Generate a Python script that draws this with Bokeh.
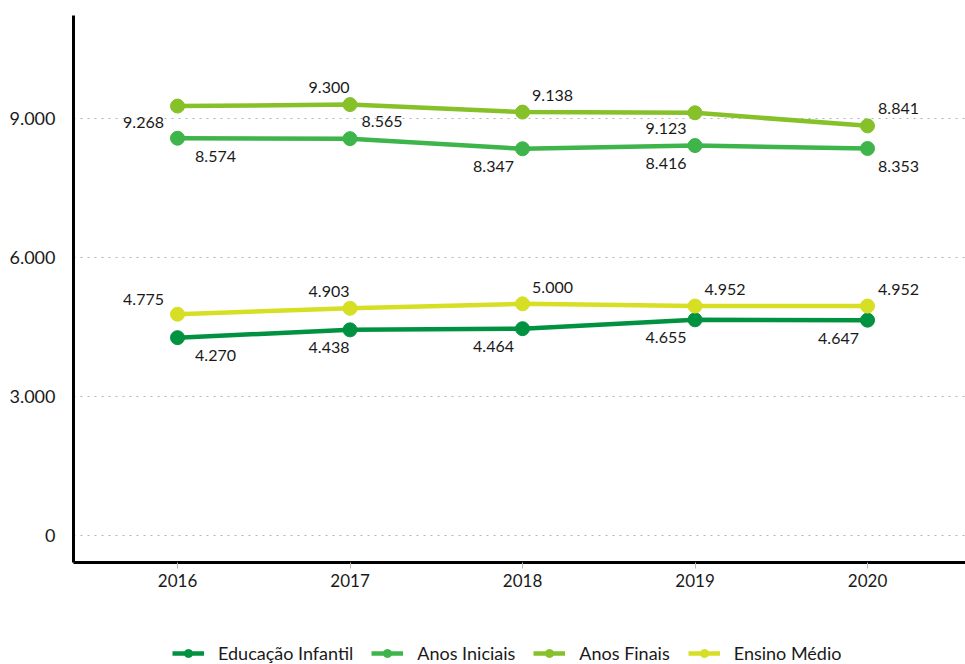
from bokeh.plotting import figure
from bokeh.layouts import column
from bokeh.models import Range1d, FixedTicker, Legend, LegendItem, ColumnDataSource
from bokeh.core.properties import value
from bokeh.embed import file_html
from bokeh.resources import INLINE

years = [2016, 2017, 2018, 2019, 2020]
series_names = ["Educação Infantil", "Anos Iniciais", "Anos Finais", "Ensino Médio"]
educacao_infantil = [4270, 4438, 4464, 4655, 4647]
anos_iniciais = [8574, 8565, 8347, 8416, 8353]
anos_finais = [9268, 9300, 9138, 9123, 8841]
ensino_medio = [4775, 4903, 5000, 4952, 4952]
y_ticks = [0, 3000, 6000, 9000]
y_tick_labels = ["0", "3.000", "6.000", "9.000"]

colors = ["#009241", "#3db54a", "#86c12a", "#d6df23"]

# label offsets in pixels (style)
label_dx = [
    [38, -21, -29, -29, -29],
    [38, 32, -29, -29, 31],
    [-34, -21, 30, -29, 31],
    [-34, -21, 30, 30, 31],
]
label_dy = [
    [18, 18, 18, 18, 18],
    [18, -17, 18, 18, 18],
    [16, -17, -17, 16, -17],
    [-15, -17, -16, -17, -17],
]

def fmt(v):
    return f"{v:,}".replace(",", ".")

p = figure(frame_width=892, frame_height=547, output_backend="svg", toolbar_location=None,
           x_range=Range1d(2015.397, 2020.568), y_range=Range1d(-583, 11223),
           min_border_left=73, min_border_right=0, min_border_top=15, min_border_bottom=45)
p.outline_line_color = None
p.background_fill_color = "white"
p.border_fill_color = "white"

data = [educacao_infantil, anos_iniciais, anos_finais, ensino_medio]
sources = []
for i, (name, vals) in enumerate(zip(series_names, data)):
    src = ColumnDataSource(dict(x=years, y=vals, t=[fmt(v) for v in vals],
                                dx=label_dx[i], dy=label_dy[i]))
    sources.append(src)
    p.line("x", "y", source=src, line_color=colors[i], line_width=4.5)
    p.scatter("x", "y", source=src, size=14, fill_color=colors[i], line_color=colors[i])
    p.text("x", "y", text="t", source=src, x_offset="dx", y_offset="dy",
           text_align="center", text_baseline="middle", text_font=value("Lato"),
           text_font_size="16px", text_color="#1a1a1a")

p.xgrid.grid_line_color = None
p.ygrid.grid_line_color = "#b5b5b5"
p.ygrid.grid_line_dash = "2 5"
p.ygrid.grid_line_width = 1
p.ygrid.ticker = FixedTicker(ticks=y_ticks)

p.yaxis.ticker = FixedTicker(ticks=y_ticks)
p.yaxis.major_label_overrides = {t: l for t, l in zip(y_ticks, y_tick_labels)}
p.yaxis.axis_line_color = "black"
p.yaxis.axis_line_width = 3
p.yaxis.major_tick_line_color = None
p.yaxis.minor_tick_line_color = None
p.yaxis.major_label_text_font = "Lato"
p.yaxis.major_label_text_font_size = "18px"
p.yaxis.major_label_text_color = "#1a1a1a"
p.yaxis.major_label_standoff = 12

p.xaxis.ticker = FixedTicker(ticks=years)
p.xaxis.major_label_overrides = {y: str(y) for y in years}
p.xaxis.axis_line_color = "black"
p.xaxis.axis_line_width = 3
p.xaxis.major_tick_line_color = "#bbbbbb"
p.xaxis.major_tick_out = 6
p.xaxis.major_tick_in = 0
p.xaxis.minor_tick_line_color = None
p.xaxis.major_label_text_font = "Lato"
p.xaxis.major_label_text_font_size = "17px"
p.xaxis.major_label_text_color = "#1a1a1a"
p.xaxis.major_label_standoff = 5

# legend strip below the chart (series drawn out of view; only legend glyphs show)
leg = figure(width=965, height=57, output_backend="svg", toolbar_location=None,
             x_range=Range1d(0, 1), y_range=Range1d(0, 1),
             x_axis_type=None, y_axis_type=None,
             min_border_left=0, min_border_right=0, min_border_top=0, min_border_bottom=0)
leg.outline_line_color = None
leg.xgrid.grid_line_color = None
leg.ygrid.grid_line_color = None
leg.background_fill_color = "white"
leg.border_fill_color = "white"
items = []
for i, name in enumerate(series_names):
    r1 = leg.line("x", "y", source=sources[i], line_color=colors[i], line_width=4.5)
    r2 = leg.scatter("x", "y", source=sources[i], size=12, fill_color=colors[i], line_color=colors[i])
    items.append(LegendItem(label=name, renderers=[r1, r2]))

legend = Legend(items=items, orientation="horizontal", location=(99, 0),
                glyph_width=32, glyph_height=20, label_height=20, label_standoff=14,
                spacing=18, padding=0, margin=0, border_line_color=None, background_fill_alpha=0,
                label_text_font="Lato", label_text_font_size="18px", label_text_color="#1a1a1a")
leg.add_layout(legend, "center")

layout = column(p, leg, spacing=0)
open("out.html", "w").write(file_html(layout, INLINE))
